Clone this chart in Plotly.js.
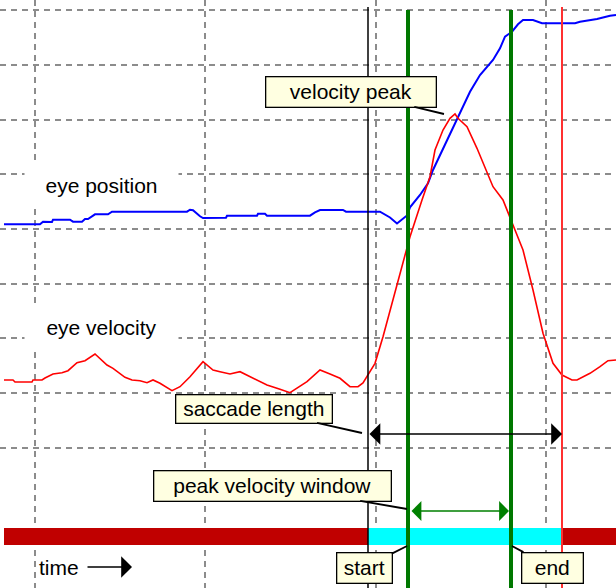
<!DOCTYPE html>
<html>
<head>
<meta charset="utf-8">
<script src="https://cdn.plot.ly/plotly-3.0.1.min.js"></script>
<style>html,body{margin:0;padding:0;background:#fff;}#chart{width:616px;height:588px;}</style>
</head>
<body>
<div id="chart"></div>
<script>
// ---- data (time in samples, value in display units; y axis runs downward) ----
var posTime = [4,40,43,52,53,70,73,82,85,88,95,108,112,187,190,193,200,203,226,227,257,258,265,267,310,315,320,343,346,380,390,397,407,410,420,428,433,445,457,470,480,493,500,505,512,518,523,533,542,563,575,580,597,610,616];
var posValue = [224.3,224.3,221.7,222,219.7,219.7,221.7,221.7,219,219,214.3,214.3,211.7,211.7,209.7,210.3,216.3,218,217.7,215.7,215.7,213.7,213.7,215.7,215.7,212.3,210,210,211.7,211.7,217.5,223.5,215.5,207.3,195,183.3,170,145,118.3,91.7,75,60,48.3,36.7,31.7,24.3,20,20,23.3,23.3,23.3,21.7,19,15.7,15];

var velTime = [4,13,15,32,33,42,45,53,62,68,77,85,95,107,113,125,132,140,147,153,160,172,180,190,203,213,220,230,240,247,267,280,290,307,320,330,340,350,358,363,368,375,383,393,405,410,422,430,435,443,450,455,458,467,477,493,503,508,513,523,533,543,553,562,572,577,590,600,608,616];
var velValue = [380,380,382,382,380,380,378,374,372.7,370.7,362.7,360.7,354,365,368.3,377.3,380,380.7,382.7,380,383.3,390.7,386.7,376.7,361.7,370,371.7,374,371.7,375,385,389.3,392.7,381.7,370,374,378.3,386.7,386.7,383,375,363.3,336.7,300,253.3,236.7,200,176.7,150,130,118.3,114,118.3,126.7,148.3,186.7,200,213.3,225,250,290,333.3,363.3,375,380,380,373.3,366.7,360.7,360];

var saccadeStart = 368;
var saccadeEnd = 562;
var peakWindow = [408, 511];
var peakTime = 444, peakValue = 114;

var gridX = [35, 205, 376, 546];
var gridY = [10, 65, 120, 174, 229, 284, 338, 393, 448];

// ---- styling ----
var FONT = {family: '"Liberation Sans", Arial, sans-serif', size: 21, color: '#000'};
var TIP = '#ffffe1';

var traces = [
  {x: posTime, y: posValue, type: 'scatter', mode: 'lines', line: {color: '#0000ff', width: 2}, hoverinfo: 'skip'},
  {x: velTime, y: velValue, type: 'scatter', mode: 'lines', line: {color: '#ff0000', width: 1.6}, hoverinfo: 'skip'}
];

var barTop = 528, barBottom = 545;
var shapes = [
  {type: 'rect', xref: 'x', yref: 'y', x0: 4, x1: saccadeStart, y0: barTop, y1: barBottom, fillcolor: '#c00000', line: {width: 0}, layer: 'above'},
  {type: 'rect', xref: 'x', yref: 'y', x0: saccadeStart, x1: saccadeEnd, y0: barTop, y1: barBottom, fillcolor: '#00ffff', line: {width: 0}, layer: 'above'},
  {type: 'rect', xref: 'x', yref: 'y', x0: saccadeEnd, x1: 620, y0: barTop, y1: barBottom, fillcolor: '#c00000', line: {width: 0}, layer: 'above'},
  {type: 'line', xref: 'x', yref: 'y', x0: saccadeStart, x1: saccadeStart, y0: 7, y1: 590, line: {color: '#000', width: 1.5}, layer: 'above'},
  {type: 'line', xref: 'x', yref: 'y', x0: saccadeEnd, x1: saccadeEnd, y0: 7, y1: 590, line: {color: '#ff3030', width: 2}, layer: 'above'},
  {type: 'line', xref: 'x', yref: 'y', x0: peakWindow[0], x1: peakWindow[0], y0: 10, y1: 590, line: {color: '#007800', width: 4}, layer: 'above'},
  {type: 'line', xref: 'x', yref: 'y', x0: peakWindow[1], x1: peakWindow[1], y0: 10, y1: 590, line: {color: '#007800', width: 4}, layer: 'above'}
];

function callout(text, boxX, boxY, w, h, tx, ty) {
  return {text: text, x: tx, y: ty, ax: boxX, ay: boxY, axref: 'x', ayref: 'y', xref: 'x', yref: 'y',
    showarrow: true, arrowhead: 0, arrowwidth: 1.8, arrowcolor: '#000',
    bgcolor: TIP, bordercolor: '#000', borderwidth: 1.3, borderpad: 1, width: w, height: h,
    align: 'center', valign: 'middle', font: FONT};
}
function arrow(x0, x1, y, color, both, size) {
  return {text: '', x: x1, y: y, ax: x0, ay: y, axref: 'x', ayref: 'y', xref: 'x', yref: 'y',
    showarrow: true, arrowhead: 1, arrowsize: size, arrowwidth: 1.5, arrowcolor: color,
    arrowside: both ? 'end+start' : 'end', standoff: 0, startstandoff: 0};
}

var annotations = [
  {text: 'eye position', x: 101, y: 185, xref: 'x', yref: 'y', showarrow: false, bgcolor: '#fff', borderpad: 2, width: 149, height: 40, font: FONT},
  {text: 'eye velocity', x: 101, y: 327, xref: 'x', yref: 'y', showarrow: false, bgcolor: '#fff', borderpad: 2, width: 149, height: 40, font: FONT},
  {text: 'time', x: 59, y: 567, xref: 'x', yref: 'y', showarrow: false, font: FONT},
  arrow(86, 132, 567, '#000', false, 2.4),
  arrow(saccadeStart, saccadeEnd, 434, '#000', true, 2.4),
  arrow(peakWindow[0] + 2, peakWindow[1] - 2, 511, '#008000', true, 2.2),
  callout('velocity peak', 350.5, 91.5, 167, 27, peakTime, peakValue),
  callout('saccade length', 253.5, 408.5, 153, 25, saccadeStart - 6, 433),
  callout('peak velocity window', 272, 485.5, 234, 27, peakWindow[0] - 1, 509),
  callout('start', 364, 567.5, 52, 27, peakWindow[0] - 1, barBottom + 1),
  callout('end', 552, 567.5, 58, 27, peakWindow[1] + 1, barBottom + 1)
];

var axisCommon = {showticklabels: false, ticks: '', zeroline: false, showline: false, fixedrange: true,
  showgrid: true, gridcolor: '#8c8c8c', gridwidth: 1.5, griddash: '6px,5px', tickmode: 'array'};

var layout = {
  width: 616, height: 588,
  margin: {l: 0, r: 0, t: 0, b: 0, pad: 0},
  paper_bgcolor: '#fff', plot_bgcolor: '#fff',
  showlegend: false,
  xaxis: Object.assign({}, axisCommon, {range: [0, 616], tickvals: gridX}),
  yaxis: Object.assign({}, axisCommon, {range: [588, 0], tickvals: gridY}),
  shapes: shapes,
  annotations: annotations
};

Plotly.newPlot('chart', traces, layout, {staticPlot: true, displayModeBar: false});
</script>
</body>
</html>
